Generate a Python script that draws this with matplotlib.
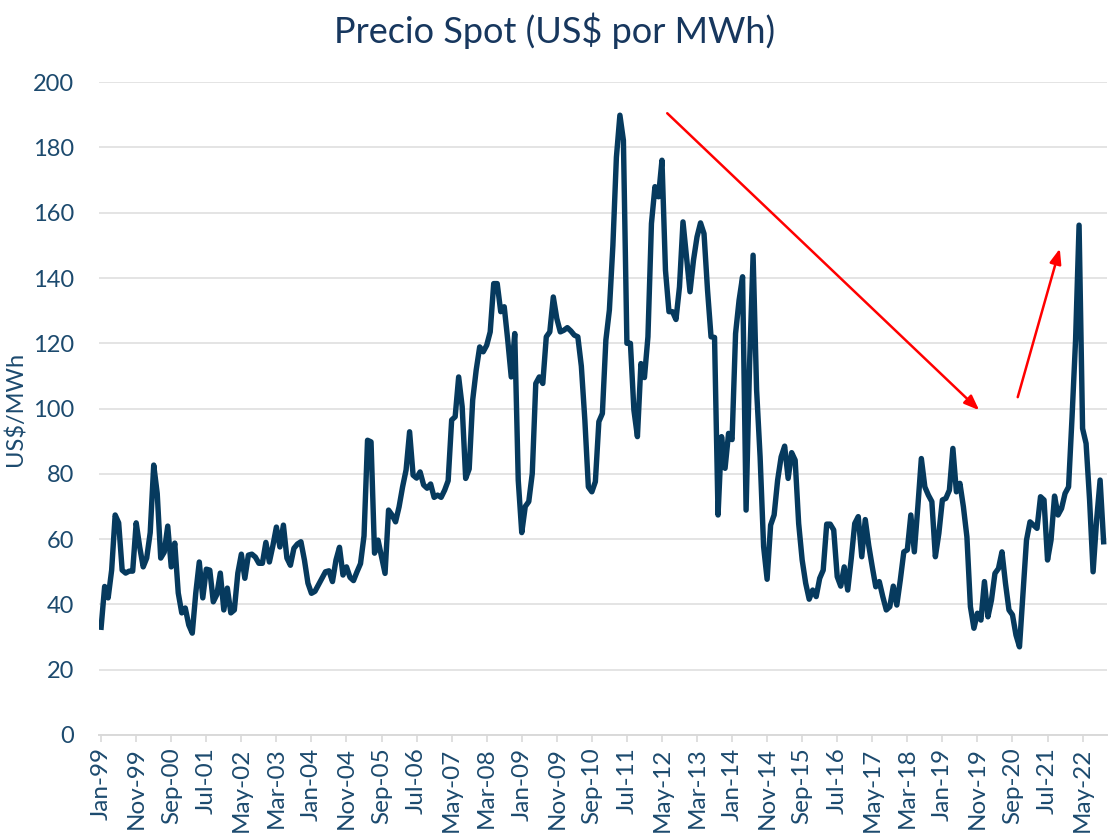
import numpy as np
import matplotlib.pyplot as plt

plt.rcParams['font.family'] = ['Lato', 'DejaVu Sans']

# precio spot mensual, ene-1999 a nov-2022 (US$/MWh)
precio = [
    33, 45.5, 42, 50.5, 67.4, 65, 50.5, 49.6, 50.2, 50.2, 65, 57.6,
    51.5, 54.2, 62, 82.7, 74, 54.2, 56, 64, 51.5, 58.8, 43.5, 37.4,
    38.9, 33.7, 31.2, 43.5, 53, 42, 50.8, 50.5, 40.8, 43, 49.6, 38.3,
    45, 37.4, 38.3, 49.6, 55.4, 48, 55.1, 55.4, 54.5, 52.6, 52.6, 59,
    53, 58, 63.7, 57.6, 64.3, 54.2, 52, 57.2, 58.5, 59.2, 53.6, 46.5,
    43.4, 44, 46, 48, 50, 50.3, 47, 53.6, 57.5, 49, 51.5, 48.3,
    47.3, 50, 52.5, 61, 90.3, 89.8, 55.7, 59.7, 54.6, 49.5, 68.9, 67.4,
    65.3, 69.9, 76, 81.2, 92.9, 79.6, 78.7, 80.6, 76.6, 75.6, 76.9, 72.8,
    73.5, 72.8, 75, 77.9, 96.5, 97.5, 109.7, 100.6, 78.6, 81.5, 102.6, 111.8,
    118.9, 117.4, 119.4, 123.5, 138.3, 138.3, 129.7, 131.2, 121, 109.7, 123, 78,
    62, 70, 71.5, 80.1, 107.7, 109.7, 107.7, 122, 123.5, 134.2, 127.6, 123.5,
    124, 124.8, 123.8, 122.5, 122, 113, 96.5, 76, 74.5, 77.6, 96, 98.5,
    121, 130.2, 150, 177, 189.9, 182.2, 120, 120, 99.5, 91.4, 113.8, 109.5,
    122, 156.7, 168, 164.9, 176.1, 142.4, 129.7, 129.7, 127.3, 137.3, 157.2, 146.5,
    135.8, 145.5, 152.6, 156.9, 153.6, 136.3, 122, 121.8, 67.4, 91.4, 81.7, 92.4,
    90.5, 123, 133.2, 140.4, 68.9, 113.8, 147, 105.7, 85.2, 57.7, 47.7, 64.3,
    67.4, 78.1, 85.2, 88.5, 78.6, 86.5, 84.2, 64.8, 53.6, 46.5, 41.6, 44.4,
    42.4, 48, 50.5, 64.6, 64.6, 62.8, 48.5, 45.6, 51.5, 44.4, 54, 64.8,
    66.9, 54.6, 66, 58, 51.5, 45.4, 47, 42.4, 38.3, 39.3, 45.6, 39.8,
    47.5, 56.1, 56.7, 67.4, 56.1, 69.9, 84.7, 76, 73.5, 71.5, 54.6, 61.8,
    72, 72.5, 75, 87.8, 74.5, 77.1, 69.9, 60.7, 39.3, 32.7, 37.3, 35.2,
    47, 36.2, 41.3, 49.5, 51, 56.1, 46.5, 38.3, 36.8, 30.6, 27, 43.4,
    59.7, 65.3, 64.3, 63.3, 73, 72, 53.6, 59.7, 73.2, 67.4, 69.4, 74,
    76, 97.5, 121, 156.2, 93.9, 89.3, 72, 50, 65.8, 78.1, 59.2,
]

etiquetas = ['Jan-99', 'Nov-99', 'Sep-00', 'Jul-01', 'May-02', 'Mar-03', 'Jan-04',
             'Nov-04', 'Sep-05', 'Jul-06', 'May-07', 'Mar-08', 'Jan-09', 'Nov-09',
             'Sep-10', 'Jul-11', 'May-12', 'Mar-13', 'Jan-14', 'Nov-14', 'Sep-15',
             'Jul-16', 'May-17', 'Mar-18', 'Jan-19', 'Nov-19', 'Sep-20', 'Jul-21',
             'May-22']
pos_etiquetas = np.arange(len(etiquetas)) * 10

# flechas (mes, valor): tendencia bajista y subida reciente
flecha_baja = [(161.5, 190.5), (250.5, 99.5)]
flecha_sube = [(261.5, 103.5), (273.5, 149)]

azul = '#063A5E'
texto = '#1C4A6E'

fig = plt.figure(figsize=(11.09, 8.39), dpi=100)
ax = fig.add_axes([0.0893, 0.124, 0.909, 0.778])

ax.plot(np.arange(len(precio)), precio, color=azul, lw=3.9, solid_joinstyle='round')

for ini, fin in [flecha_baja, flecha_sube]:
    ax.annotate('', xy=fin, xytext=ini,
                arrowprops=dict(arrowstyle='-|>,head_length=0.9,head_width=0.35',
                                color='#FF0000', lw=1.8, shrinkA=0, shrinkB=0))

ax.set_xlim(-0.6, 287)
ax.set_ylim(0, 200)
ax.set_yticks(np.arange(0, 201, 20))
ax.set_xticks(pos_etiquetas)
ax.set_xticklabels(etiquetas, rotation=90)
ax.grid(axis='y', color='#E4E4E4', lw=1.4)
ax.set_axisbelow(True)
for s in ['top', 'right', 'left']:
    ax.spines[s].set_visible(False)
ax.spines['bottom'].set_color('#D9D9D9')
ax.spines['bottom'].set_linewidth(1.4)
ax.tick_params(axis='y', length=0, pad=18, labelsize=17, labelcolor=texto)
ax.tick_params(axis='x', length=5, width=1.2, color='#D9D9D9', pad=4,
               labelsize=17.5, labelcolor=texto)

ax.set_ylabel('US$/MWh', fontsize=17, color=texto, labelpad=2)
ax.yaxis.set_label_coords(-0.072, 0.5)
fig.suptitle('Precio Spot (US$ por MWh)', fontsize=26, color='#17375E', y=0.985)

fig.savefig('out.png', dpi=100)
